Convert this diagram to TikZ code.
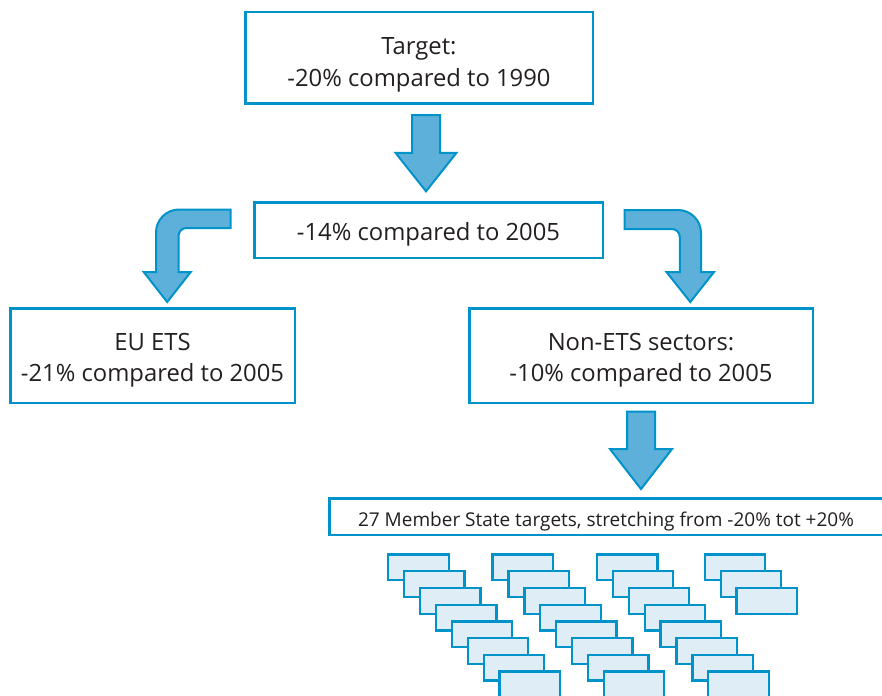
\documentclass[tikz,border=0pt]{standalone}
\usepackage{fontspec}
\setmainfont{Open Sans}
\usetikzlibrary{calc}
\definecolor{eublue}{HTML}{0093C9}
\definecolor{arrowfill}{HTML}{5DB0DA}
\definecolor{smallfill}{HTML}{DFEEF6}
\definecolor{txtgray}{HTML}{231F20}
\newcommand\blockdown[4]{\draw[arrowst] let \p1=#1, \p2=#2 in
  (\x2-14pt,\y1) -- (\x2+14pt,\y1) -- (\x2+14pt,\y2+#4) -- (\x2+#3,\y2+#4) --
  (\x2,\y2) -- (\x2-#3,\y2+#4) -- (\x2-14pt,\y2+#4) -- cycle;}
\begin{document}
\begin{tikzpicture}[x=1pt,y=1pt,
  boxst/.style={draw=eublue, line width=2.5pt, fill=white, inner sep=0pt},
  txtst/.style={text=txtgray, align=center, inner sep=0pt, font=\fontsize{23.8}{31.5}\selectfont},
  smalltxt/.style={text=txtgray, inner sep=0pt, font=\fontsize{19}{23}\selectfont},
  arrowst/.style={draw=eublue, fill=arrowfill, line width=2pt, line join=miter},
  msbox/.style={draw=eublue, fill=smallfill, line width=2.3pt, minimum width=60.4pt,
    minimum height=25.7pt, inner sep=0pt, anchor=north west},
]
\fill[white] (0,0) rectangle (882,-695);
\useasboundingbox (0,0) rectangle (882,-695);

% main boxes
\node[boxst, minimum width=347.5pt, minimum height=91.5pt] (target) at (419,-58) {};
\node[txtst] (targettxt) at (419,-64.9) {Target:\\-20\% compared to 1990};

\node[boxst, minimum width=348.5pt, minimum height=55.5pt] (mid) at (428.5,-230) {};
\node[txtst, anchor=base] (midtxt) at (428.5,-240) {-14\% compared to 2005};

\node[boxst, minimum width=284.5pt, minimum height=94.5pt] (eu) at (152.5,-355.5) {};
\node[txtst] (eutxt) at (152.5,-360.2) {EU ETS\\-21\% compared to 2005};

\node[boxst, minimum width=343.5pt, minimum height=94.5pt] (nonets) at (641,-355.5) {};
\node[txtst] (nonetstxt) at (641,-360.2) {Non-ETS sectors:\\-10\% compared to 2005};

\node[boxst, minimum width=553.5pt, minimum height=36.8pt] (member) at (606,-516.7) {};
\node[smalltxt, anchor=base] (membertxt) at (606,-526.3) {27 Member State targets, stretching from -20\% tot +20\%};

% straight block arrows
\blockdown{($(target.south)+(0,-10.2)$)}{($(mid.north)+(-2.5,9.7)$)}{30.5pt}{38.5pt}
\blockdown{($(nonets.south)+(0,-7.5)$)}{($(nonets.south |- member.north)+(0,8)$)}{31pt}{40pt}

% bent block arrow to EU ETS
\draw[arrowst] (230.7,-209.5) -- (179,-209.5) arc[start angle=90, end angle=180, radius=23]
  -- (156,-272) -- (143.7,-272) -- (167.2,-302) -- (190.7,-272) -- (178.5,-272)
  -- (178.5,-236) arc[start angle=180, end angle=90, radius=8] -- (230.7,-228) -- cycle;

% bent block arrow to Non-ETS
\draw[arrowst] (624.7,-210) -- (678,-210) arc[start angle=90, end angle=0, radius=23]
  -- (701,-272) -- (714,-272) -- (690.3,-302) -- (666.5,-272) -- (679.8,-272)
  -- (679.8,-237) arc[start angle=0, end angle=90, radius=8] -- (624.7,-229) -- cycle;

% 27 member state boxes
\foreach \c/\x/\n in {1/386/8, 2/490.3/8, 3/594.7/8, 4/702.5/3} {
  \foreach \i in {1,...,\n} {
    \node[msbox] (ms-\c-\i) at ({\x+1.15+(\i-1)*15.9}, {-(552.3+1.15+(\i-1)*16.7)}) {};
  }
}
\end{tikzpicture}
\end{document}
